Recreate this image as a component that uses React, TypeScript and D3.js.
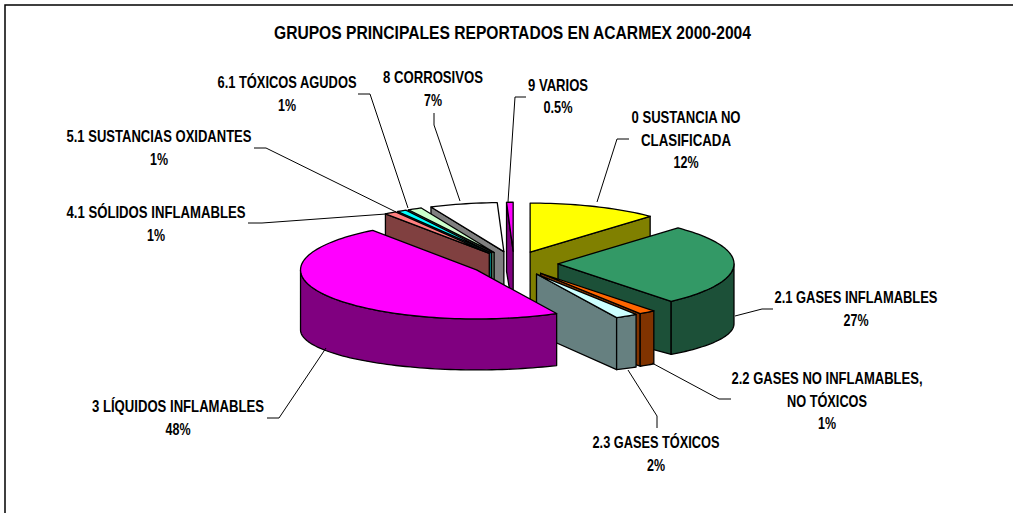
import React from "react";
import * as d3 from "d3";

const categories = [
  "0 SUSTANCIA NO CLASIFICADA",
  "2.1 GASES INFLAMABLES",
  "2.2 GASES NO INFLAMABLES, NO TÓXICOS",
  "2.3 GASES TÓXICOS",
  "3 LÍQUIDOS INFLAMABLES",
  "4.1 SÓLIDOS INFLAMABLES",
  "5.1 SUSTANCIAS OXIDANTES",
  "6.1 TÓXICOS AGUDOS",
  "8 CORROSIVOS",
  "9 VARIOS",
];
const values = [11.95, 26.95, 1.55, 2.05, 47.5, 1.1, 0.85, 1.3, 6.2, 0.6];
const topColors = ["#FFFF00", "#339966", "#FF6600", "#CCFFFF", "#FF00FF", "#FF8080", "#00FFFF", "#CCFFCC", "#FFFFFF", "#FF00FF"];
const wallColors = ["#808000", "#1C5038", "#803300", "#668080", "#800080", "#804040", "#008080", "#668066", "#808080", "#800080"];
// painter's order, back to front
const drawOrder = [9, 8, 7, 6, 5, 0, 1, 2, 3, 4];

const titleText = "GRUPOS PRINCIPALES REPORTADOS EN ACARMEX 2000-2004";

type Lbl = { lines: string[]; cx: number; base: number[]; w: number[]; leader: [number, number][] };
const labels: Lbl[] = [
  { lines: ["0 SUSTANCIA NO", "CLASIFICADA", "12%"], cx: 686, base: [123, 146, 168], w: [109, 90, 25], leader: [[629, 139], [617, 139], [597, 202]] },
  { lines: ["2.1 GASES INFLAMABLES", "27%"], cx: 856, base: [303, 326], w: [163, 25], leader: [[773, 309], [762, 309], [735, 316]] },
  { lines: ["2.2 GASES NO INFLAMABLES,", "NO TÓXICOS", "1%"], cx: 827, base: [384, 407, 429], w: [191, 80, 18], leader: [[731, 399], [719, 399], [652, 363]] },
  { lines: ["2.3 GASES TÓXICOS", "2%"], cx: 656, base: [448, 471], w: [127, 18], leader: [[657, 428], [657, 416], [628, 370]] },
  { lines: ["3 LÍQUIDOS INFLAMABLES", "48%"], cx: 178, base: [412, 435], w: [172, 25], leader: [[267, 418], [279, 418], [326, 348]] },
  { lines: ["4.1 SÓLIDOS INFLAMABLES", "1%"], cx: 156, base: [218, 241], w: [179, 18], leader: [[248, 223], [262, 223], [386, 214]] },
  { lines: ["5.1 SUSTANCIAS OXIDANTES", "1%"], cx: 159, base: [142, 165], w: [185, 18], leader: [[254, 148], [266, 148], [396, 212]] },
  { lines: ["6.1 TÓXICOS AGUDOS", "1%"], cx: 287, base: [88, 111], w: [139, 18], leader: [[358, 94], [370, 94], [408, 208]] },
  { lines: ["8 CORROSIVOS", "7%"], cx: 433, base: [83, 106], w: [100, 18], leader: [[434, 113], [434, 125], [460, 201]] },
  { lines: ["9 VARIOS", "0.5%"], cx: 558, base: [91, 113], w: [60, 29], leader: [[526, 97], [515, 97], [508, 202]] },
];

const W = 1013, H = 513;
const CX = 514, CY = 263.5;
const RX = 176, RY_TOP = 49, RY_BOT = 40, DEPTH = 60, EXPLODE = 44;

// unit-circle coordinates run through scales that project the disc into the page
const sx = d3.scaleLinear().domain([-1, 1]).range([-RX, RX]);
const syTop = d3.scaleLinear().domain([-1, 1]).range([-RY_TOP, RY_TOP]);
const syBot = d3.scaleLinear().domain([-1, 1]).range([-RY_BOT, RY_BOT]);

const pie = d3.pie<number>().sort(null).startAngle(0).endAngle(2 * Math.PI);
const line = d3.line();

function ptTop(c: number[], a: number): [number, number] {
  return [c[0] + sx(Math.sin(a)), c[1] + syTop(-Math.cos(a))];
}
function ptBot(c: number[], a: number): [number, number] {
  return [c[0] + sx(Math.sin(a)), c[1] + DEPTH + syBot(-Math.cos(a))];
}
function arcAngles(a0: number, a1: number): number[] {
  const n = Math.max(2, Math.ceil((a1 - a0) / 0.03));
  return d3.range(n + 1).map((i) => a0 + ((a1 - a0) * i) / n);
}

function Slice({ d, i }: { d: d3.PieArcDatum<number>; i: number }) {
  const a0 = d.startAngle, a1 = d.endAngle;
  const mid = (a0 + a1) / 2;
  const c = [CX + sx(Math.sin(mid)) * (EXPLODE / RX), CY + syTop(-Math.cos(mid)) * (EXPLODE / RX)];
  const cb: [number, number] = [c[0], c[1] + DEPTH];
  const wall = wallColors[i], top = topColors[i];
  const stroke = { stroke: "#000", strokeWidth: 1.3, strokeLinejoin: "round" as const };

  const faces: string[] = [];
  const face = (a: number) =>
    line([[c[0], c[1]], ptTop(c, a), ptBot(c, a), cb])! + "Z";
  if (a1 < Math.PI) faces.push(face(a1));
  if (a0 > Math.PI) faces.push(face(a0));

  // outer rim: only the front half of the disc shows
  const w0 = Math.max(a0, Math.PI / 2), w1 = Math.min(a1, (3 * Math.PI) / 2);
  const rim =
    w1 > w0
      ? line([...arcAngles(w0, w1).map((a) => ptTop(c, a)), ...arcAngles(w0, w1).reverse().map((a) => ptBot(c, a))])! + "Z"
      : null;

  const topPath = line([[c[0], c[1]], ...arcAngles(a0, a1).map((a) => ptTop(c, a))])! + "Z";

  return (
    <g>
      {faces.map((p, k) => (
        <path key={k} d={p} fill={wall} {...stroke} />
      ))}
      {rim && <path d={rim} fill={wall} {...stroke} />}
      <path d={topPath} fill={top} {...stroke} />
    </g>
  );
}

export default function App() {
  const arcs = pie(values);
  const font = { fontFamily: "'Liberation Sans', Arial, sans-serif", fontWeight: 700, fill: "#000" };
  return (
    <svg width={W} height={H} style={{ position: "absolute", left: 0, top: 0, background: "#fff" }}>
      <rect x={5} y={5} width={1020} height={520} fill="#fff" stroke="#000" strokeWidth={1.5} />
      <text x={512.5} y={39} textAnchor="middle" fontSize={17.5} textLength={477} lengthAdjust="spacingAndGlyphs" {...font}>
        {titleText}
      </text>
      {drawOrder.map((i) => (
        <Slice key={categories[i]} d={arcs[i]} i={i} />
      ))}
      {labels.map((l, i) => (
        <g key={i}>
          <path d={line(l.leader)!} fill="none" stroke="#000" strokeWidth={1} />
          {l.lines.map((t, k) => (
            <text key={k} x={l.cx} y={l.base[k]} textAnchor="middle" fontSize={16.5} textLength={l.w[k]} lengthAdjust="spacingAndGlyphs" {...font}>
              {t}
            </text>
          ))}
        </g>
      ))}
    </svg>
  );
}
